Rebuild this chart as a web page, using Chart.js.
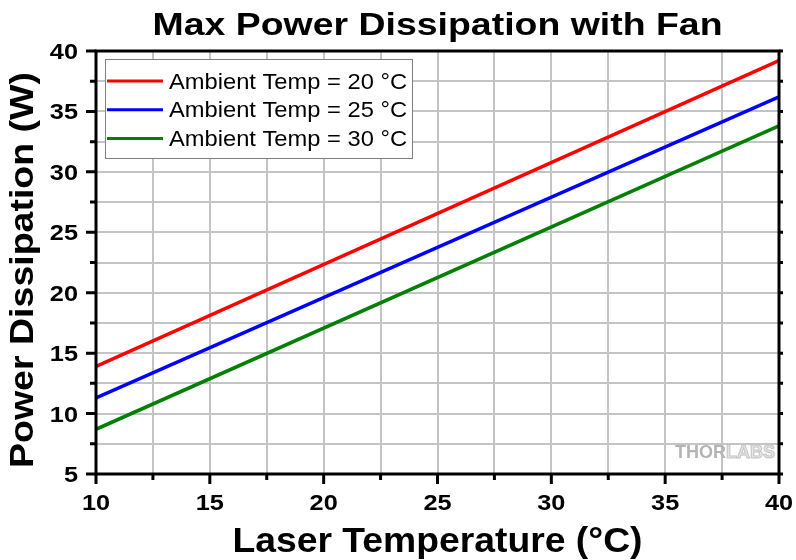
<!DOCTYPE html>
<html>
<head>
<meta charset="utf-8">
<script src="https://cdn.jsdelivr.net/npm/chart.js@4"></script>
<style>
  html, body { margin: 0; padding: 0; background: #fff; }
  canvas { display: block; }
</style>
</head>
<body>
<canvas id="c" width="796" height="560"></canvas>
<script>
// data
const laserTemp = [10, 40];
const ambient20 = [13.9, 39.2];
const ambient25 = [11.3, 36.2];
const ambient30 = [8.7, 33.8];
const seriesLabels = ["Ambient Temp = 20 °C", "Ambient Temp = 25 °C", "Ambient Temp = 30 °C"];
const seriesColors = ["#ff0000", "#0000ff", "#008000"];

const FONT = "'Liberation Sans', Arial, sans-serif";

function toPoints(ys) {
  return laserTemp.map((x, i) => ({ x: x, y: ys[i] }));
}

// the reference text is set a bit wide, so stretch it horizontally
function wideText(ctx, text, x, y, font, sx, align) {
  ctx.save();
  ctx.font = font;
  ctx.translate(x, y);
  ctx.scale(sx, 1);
  ctx.textAlign = align;
  ctx.fillText(text, 0, 0);
  ctx.restore();
}
function fitText(ctx, text, x, y, font, width) {
  ctx.font = font;
  const sx = width / ctx.measureText(text).width;
  wideText(ctx, text, x, y, font, sx, "center");
}

const decor = {
  id: "decor",
  afterDatasetsDraw(chart) {
    const ctx = chart.ctx;
    const a = chart.chartArea;
    const xs = chart.scales.x, ys = chart.scales.y;
    ctx.save();

    // tick marks + labels
    ctx.strokeStyle = "#000";
    ctx.fillStyle = "#000";
    ctx.lineWidth = 3;
    ctx.textBaseline = "alphabetic";
    const tickFont = "bold 22px " + FONT;
    ctx.beginPath();
    xs.ticks.forEach(t => {
      const px = xs.getPixelForValue(t.value);
      const major = t.value % 5 === 0;
      ctx.moveTo(px, a.bottom); ctx.lineTo(px, a.bottom + (major ? 10 : 6));
      if (major) wideText(ctx, String(t.value), px, 510, tickFont, 1.15, "center");
    });
    ys.ticks.forEach(t => {
      const py = ys.getPixelForValue(t.value);
      const major = t.value % 5 === 0;
      ctx.moveTo(a.left, py); ctx.lineTo(a.left - (major ? 10 : 6), py);
      ctx.moveTo(a.right, py); ctx.lineTo(a.right + 4, py);
      if (major) wideText(ctx, String(t.value), 78, py + 8, tickFont, 1.15, "right");
    });
    ctx.stroke();

    // frame
    ctx.strokeRect(a.left, a.top, a.right - a.left, a.bottom - a.top);

    // watermark
    ctx.font = "bold 18px " + FONT;
    ctx.textAlign = "left";
    let wx = 675;
    ctx.fillStyle = "#b4b4b4";
    ctx.fillText("THOR", wx, 458);
    wx += ctx.measureText("THOR").width;
    ctx.fillStyle = "#e6e6e6";
    ctx.fillText("LABS", wx, 458);
    ctx.strokeStyle = "#c4c4c4";
    ctx.lineWidth = 1;
    ctx.strokeText("LABS", wx, 458);

    // legend
    ctx.fillStyle = "#fff";
    ctx.fillRect(105, 59, 307, 99);
    ctx.strokeStyle = "#808080";
    ctx.lineWidth = 1;
    ctx.strokeRect(105.5, 59.5, 307, 99);
    seriesLabels.forEach((lab, i) => {
      const y = 81 + i * 28.7;
      ctx.strokeStyle = seriesColors[i];
      ctx.lineWidth = 3;
      ctx.beginPath();
      ctx.moveTo(107, y); ctx.lineTo(163, y);
      ctx.stroke();
      ctx.fillStyle = "#000";
      ctx.font = "22px " + FONT;
      const sx = 238 / ctx.measureText(lab).width;
      wideText(ctx, lab, 169, y + 7.5, "22px " + FONT, sx, "left");
    });

    // titles
    ctx.fillStyle = "#000";
    const cx = (a.left + a.right) / 2;
    fitText(ctx, "Max Power Dissipation with Fan", cx, 35, "bold 32px " + FONT, 570);
    fitText(ctx, "Laser Temperature (°C)", cx, 552, "bold 35px " + FONT, 410);
    ctx.save();
    ctx.translate(33, 270);
    ctx.rotate(-Math.PI / 2);
    fitText(ctx, "Power Dissipation (W)", 0, 0, "bold 34px " + FONT, 396);
    ctx.restore();

    ctx.restore();
  }
};

const gridStyle = { color: "#c4c4c4", lineWidth: 2, drawTicks: false };

new Chart(document.getElementById("c"), {
  type: "line",
  data: {
    datasets: [ambient20, ambient25, ambient30].map((d, i) => ({
      label: seriesLabels[i],
      data: toPoints(d),
      borderColor: seriesColors[i],
      borderWidth: 3.5,
      pointRadius: 0,
      fill: false,
      tension: 0
    }))
  },
  options: {
    responsive: false,
    animation: false,
    devicePixelRatio: 1,
    layout: { padding: { top: 51, right: 17, left: 0, bottom: 0 } },
    plugins: { legend: { display: false }, title: { display: false }, tooltip: { enabled: false } },
    scales: {
      x: {
        type: "linear",
        min: 10, max: 40,
        grid: gridStyle,
        border: { display: false },
        ticks: { stepSize: 2.5, autoSkip: false, display: false },
        afterFit: s => { s.height = 86; }
      },
      y: {
        type: "linear",
        min: 5, max: 40,
        grid: gridStyle,
        border: { display: false },
        ticks: { stepSize: 2.5, autoSkip: false, display: false },
        afterFit: s => { s.width = 96; }
      }
    }
  },
  plugins: [decor]
});
</script>
</body>
</html>
